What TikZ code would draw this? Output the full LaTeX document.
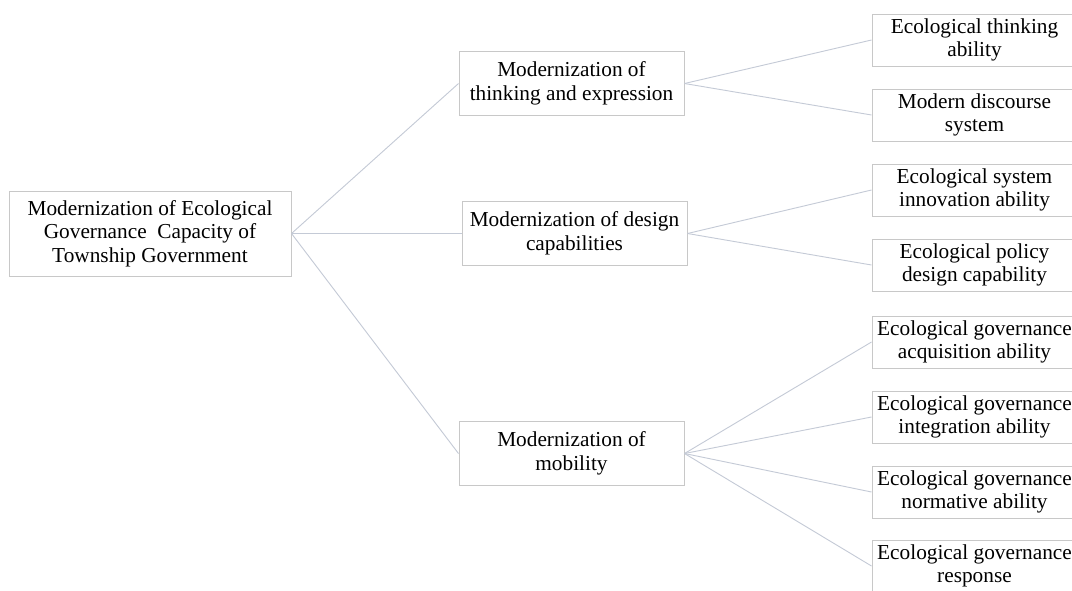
\documentclass[tikz,border=0pt]{standalone}
\usepackage{fontspec}
\setmainfont{Liberation Serif}
\definecolor{boxline}{HTML}{C8C8C8}
\definecolor{connline}{HTML}{C4CAD6}
\tikzset{
  box/.style={draw=boxline, line width=1pt, fill=white, align=center, inner sep=0pt,
    font=\fontsize{21.3}{23.5}\selectfont},
  leftbox/.style={box, minimum width=282pt, minimum height=85pt},
  midbox/.style={box, minimum width=225pt, minimum height=64pt},
  rightbox/.style={box, minimum width=205pt, minimum height=52pt},
  conn/.style={draw=connline, line width=0.9pt}
}
\begin{document}
\begin{tikzpicture}[x=1pt, y=-1pt]
\useasboundingbox (0,0) rectangle (1072,590);
\clip (0,0) rectangle (1072,590);
\fill[white] (0,0) rectangle (1072,590);

\node[leftbox] (L) at (150,233.5) {Modernization of Ecological\\Governance~ Capacity of\\Township Government};

\node[midbox] (M1) at (571.5,83.5) {Modernization of\\thinking and expression};
\node[midbox] (M2) at (574.5,233.5) {Modernization of design\\capabilities};
\node[midbox] (M3) at (571.5,453.5) {Modernization of\\mobility};

\node[rightbox] (R1) at (974.5,40) {Ecological thinking\\ability};
\node[rightbox] (R2) at (974.5,115) {Modern discourse\\system};
\node[rightbox] (R3) at (974.5,190) {Ecological system\\innovation ability};
\node[rightbox] (R4) at (974.5,265) {Ecological policy\\design capability};
\node[rightbox] (R5) at (974.5,342) {Ecological governance\\acquisition ability};
\node[rightbox] (R6) at (974.5,417) {Ecological governance\\integration ability};
\node[rightbox] (R7) at (974.5,492) {Ecological governance\\normative ability};
\node[rightbox] (R8) at (974.5,566) {Ecological governance\\response};

\draw[conn] (L.east) -- (M1.west);
\draw[conn] (L.east) -- (M2.west);
\draw[conn] (L.east) -- (M3.west);
\draw[conn] (M1.east) -- (R1.west);
\draw[conn] (M1.east) -- (R2.west);
\draw[conn] (M2.east) -- (R3.west);
\draw[conn] (M2.east) -- (R4.west);
\draw[conn] (M3.east) -- (R5.west);
\draw[conn] (M3.east) -- (R6.west);
\draw[conn] (M3.east) -- (R7.west);
\draw[conn] (M3.east) -- (R8.west);
\end{tikzpicture}
\end{document}
